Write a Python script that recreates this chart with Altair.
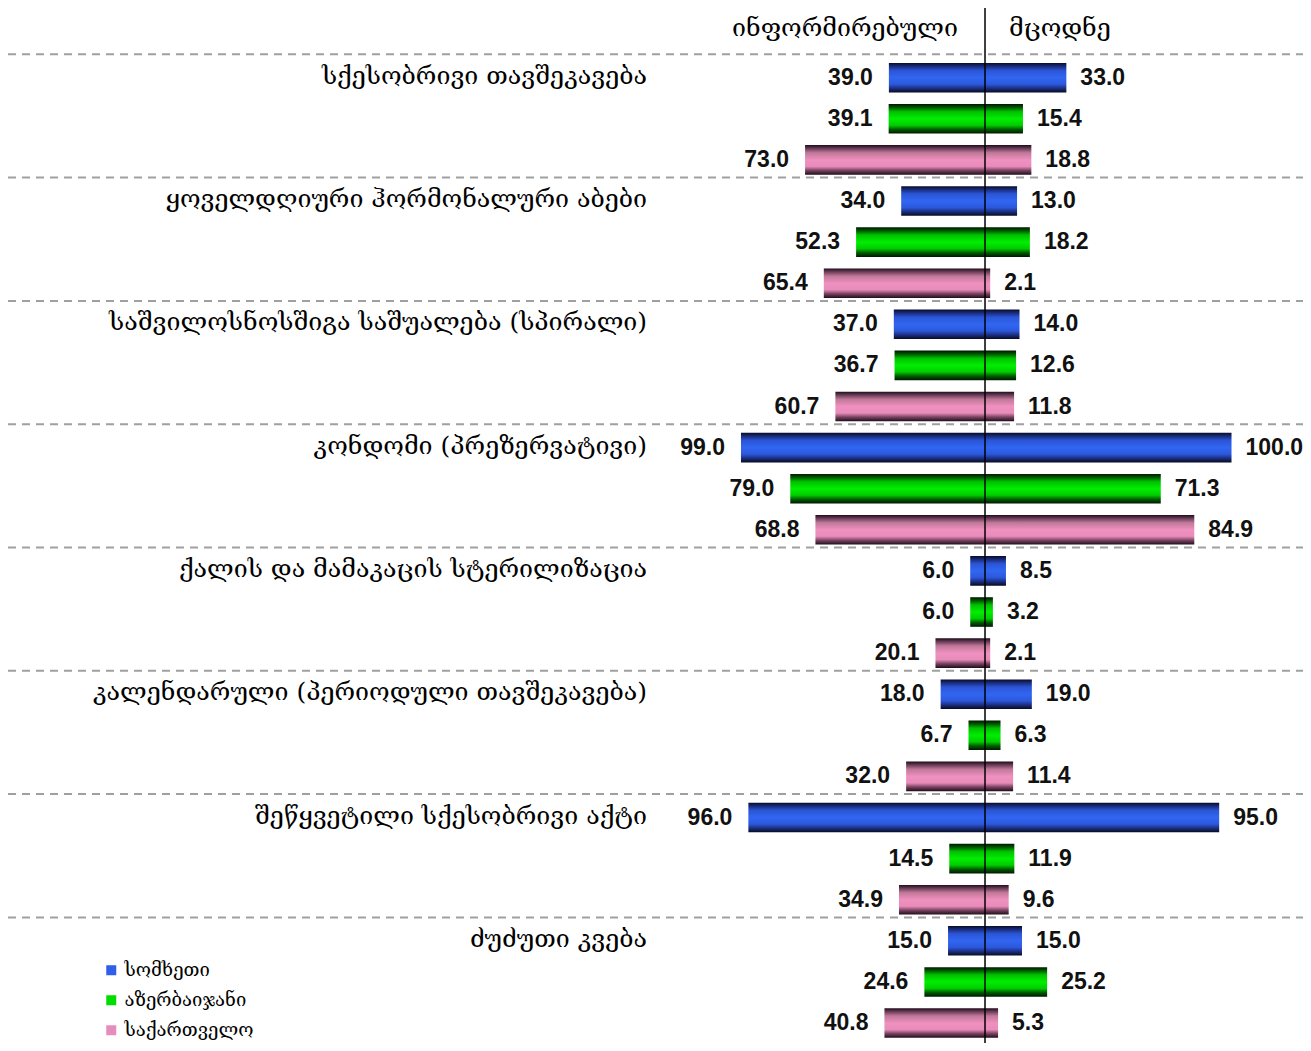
import altair as alt
import pandas as pd

# ---------------- data ----------------
categories = [
    "სქესობრივი თავშეკავება",
    "ყოველდღიური ჰორმონალური აბები",
    "საშვილოსნოსშიგა საშუალება (სპირალი)",
    "კონდომი (პრეზერვატივი)",
    "ქალის და მამაკაცის სტერილიზაცია",
    "კალენდარული (პერიოდული თავშეკავება)",
    "შეწყვეტილი სქესობრივი აქტი",
    "ძუძუთი კვება",
]
countries = ["სომხეთი", "აზერბაიჯანი", "საქართველო"]
headers = ["ინფორმირებული", "მცოდნე"]

informed_arm = [39.0, 34.0, 37.0, 99.0, 6.0, 18.0, 96.0, 15.0]
knowing_arm = [33.0, 13.0, 14.0, 100.0, 8.5, 19.0, 95.0, 15.0]
informed_aze = [39.1, 52.3, 36.7, 79.0, 6.0, 6.7, 14.5, 24.6]
knowing_aze = [15.4, 18.2, 12.6, 71.3, 3.2, 6.3, 11.9, 25.2]
informed_geo = [73.0, 65.4, 60.7, 68.8, 20.1, 32.0, 34.9, 40.8]
knowing_geo = [18.8, 2.1, 11.8, 84.9, 2.1, 11.4, 9.6, 5.3]

informed = [informed_arm, informed_aze, informed_geo]
knowing = [knowing_arm, knowing_aze, knowing_geo]

# ---------------- styling / layout ----------------
W, H = 1295, 1035
X_DOMAIN = [-396.35, 129.0]
Y_DOMAIN = [-1.696, 23.486]
BAR_HALF = 0.36
LABEL_X = -137.1
HEADER_X = [-56.8, 30.4]
HEADER_Y = -1.21
GEO_FONT = "DejaVu Serif, DejaVu Sans"
NUM_FONT = "Liberation Sans"

flat_colors = ["#2f5fe8", "#00dd00", "#e58dbd"]
gradients = [
    ["#070c28", "#1a2d80", "#2b55d6", "#3166f2", "#2c58dc", "#1c2f80", "#050a20"],
    ["#001800", "#005a00", "#00c000", "#00ee00", "#00cc00", "#005a00", "#001800"],
    ["#1e0e18", "#6e3e5c", "#c07898", "#f090c0", "#e88cba", "#784060", "#1e0e18"],
]
stop_pos = [0.0, 0.12, 0.26, 0.5, 0.72, 0.86, 1.0]

rows = []
for g, cat in enumerate(categories):
    for j, c in enumerate(countries):
        r = 3 * g + j
        rows.append({
            "category": cat,
            "country": c,
            "row": r,
            "y0": r - BAR_HALF,
            "y1": r + BAR_HALF,
            "left": -informed[j][g],
            "right": knowing[j][g],
            "inf_label": f"{informed[j][g]:.1f}",
            "kn_label": f"{knowing[j][g]:.1f}",
            "lx": LABEL_X,
        })
df = pd.DataFrame(rows)

xs = alt.Scale(domain=X_DOMAIN, nice=False, zero=False)
ys = alt.Scale(domain=Y_DOMAIN, nice=False, zero=False, reverse=True)

base = alt.Chart(df)

# separators
sep_df = pd.DataFrame({"r": [3 * g - 0.57 for g in range(len(categories))]})
separators = alt.Chart(sep_df).mark_rule(
    color="#a0a0a0", strokeDash=[8, 6], strokeWidth=2
).encode(
    y=alt.Y("r:Q", scale=ys, axis=None),
    x=alt.value(0),
    x2=alt.value(W),
)

bar_layers = []
for j, c in enumerate(countries):
    grad = alt.Gradient(
        gradient="linear", x1=0, x2=0, y1=0, y2=1,
        stops=[alt.GradientStop(offset=o, color=col) for o, col in zip(stop_pos, gradients[j])],
    )
    bar_layers.append(
        base.transform_filter(alt.datum.country == c).mark_bar(color=grad).encode(
            x=alt.X("left:Q", scale=xs, axis=None),
            x2="right:Q",
            y=alt.Y("y0:Q", scale=ys, axis=None),
            y2="y1:Q",
        )
    )

center_df = pd.DataFrame({"x0": [0.0]})
center = alt.Chart(center_df).mark_rule(color="black", strokeWidth=1.5).encode(
    x=alt.X("x0:Q", scale=xs, axis=None),
    y=alt.value(0),
    y2=alt.value(H + 2),
)

left_labels = base.mark_text(
    align="right", baseline="middle", dx=-16, font=NUM_FONT, fontWeight="bold", fontSize=23, color="#111"
).encode(
    x=alt.X("left:Q", scale=xs, axis=None),
    y=alt.Y("row:Q", scale=ys, axis=None),
    text="inf_label:N",
)
right_labels = base.mark_text(
    align="left", baseline="middle", dx=14, font=NUM_FONT, fontWeight="bold", fontSize=23, color="#111"
).encode(
    x=alt.X("right:Q", scale=xs, axis=None),
    y=alt.Y("row:Q", scale=ys, axis=None),
    text="kn_label:N",
)

cat_labels = base.transform_filter(alt.datum.country == countries[0]).mark_text(
    align="right", baseline="middle", dy=-2, font=GEO_FONT, fontSize=25, color="#000"
).encode(
    x=alt.X("lx:Q", scale=xs, axis=None),
    y=alt.Y("row:Q", scale=ys, axis=None),
    text="category:N",
)

hdr_df = pd.DataFrame({"text": headers, "hx": HEADER_X, "hy": [HEADER_Y, HEADER_Y]})
header_text = alt.Chart(hdr_df).mark_text(
    align="center", baseline="middle", font=GEO_FONT, fontSize=25, color="#000"
).encode(
    x=alt.X("hx:Q", scale=xs, axis=None),
    y=alt.Y("hy:Q", scale=ys, axis=None),
    text="text:N",
)

legend_layer = base.mark_square(opacity=0).encode(
    x=alt.X("right:Q", scale=xs, axis=None),
    y=alt.Y("row:Q", scale=ys, axis=None),
    color=alt.Color(
        "country:N",
        scale=alt.Scale(domain=countries, range=flat_colors),
        legend=alt.Legend(
            title=None, orient="none", legendX=94, legendY=953, padding=0,
            symbolType="square", symbolSize=100, symbolOpacity=1, symbolStrokeWidth=0,
            labelFont=GEO_FONT, labelFontSize=18.5, labelColor="#000", labelOffset=4,
            rowPadding=11,
        ),
    ),
)

chart = alt.layer(
    separators, *bar_layers, center, left_labels, right_labels, cat_labels, header_text, legend_layer
).properties(
    width=W, height=H, padding=0, autosize=alt.AutoSizeParams(type="none")
).configure_view(stroke=None)

chart.save("out.html", embed_options={"renderer": "svg", "actions": False})
